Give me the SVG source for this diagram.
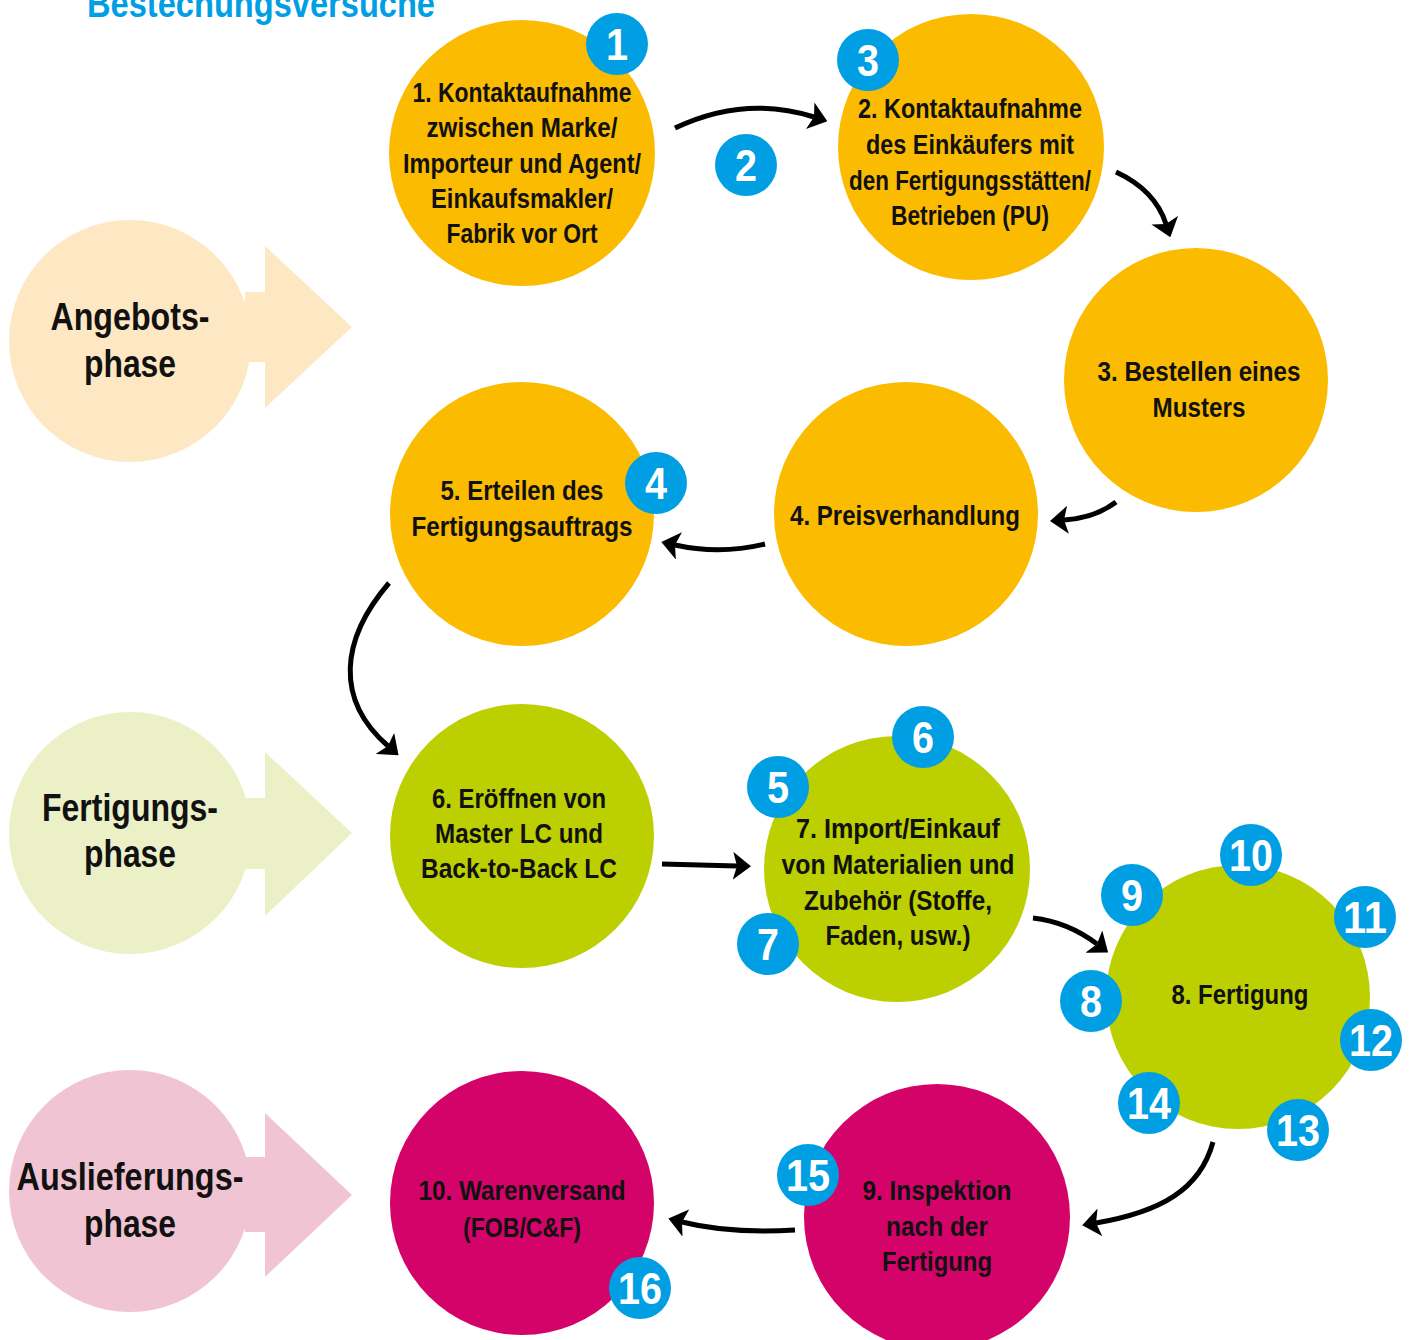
<svg xmlns="http://www.w3.org/2000/svg" width="1410" height="1340" viewBox="0 0 1410 1340">
  <defs>
    <style>
      text { font-family: "Liberation Sans", Arial, sans-serif; font-weight: bold; text-anchor: middle; }
      .lbl { font-size: 28px; fill: #111; }
      .ph { font-size: 38px; fill: #111; }
      .num { font-size: 44px; fill: #fff; }
      .title { font-size: 38px; fill: #009fe3; text-anchor: start; }
      .orange { fill: #fbbb00; }
      .green { fill: #bccf00; }
      .magenta { fill: #d4036a; }
      .badge { fill: #009fe3; }
      .conn { fill: none; stroke: #000; stroke-width: 5; marker-end: url(#arrow); }
    </style>
    <marker id="arrow" viewBox="0 0 18 28" refX="4" refY="14" markerWidth="18" markerHeight="28" markerUnits="userSpaceOnUse" orient="auto">
      <path d="M0,0 L18,14 L0,28 L4,14 Z" fill="#000"/>
    </marker>
  </defs>

  <text class="title" x="87" y="17" textLength="348" lengthAdjust="spacingAndGlyphs">Bestechungsversuche</text>

  <!-- Phase labels -->
  <g id="phase-angebot">
    <circle cx="130" cy="341" r="121" fill="#fde8c3"/>
    <polygon points="245,292 265,292 265,246 352,327 265,408 265,362 245,362" fill="#fde8c3"/>
    <text class="ph" x="130" y="330" textLength="159" lengthAdjust="spacingAndGlyphs">Angebots-</text>
    <text class="ph" x="130" y="377" textLength="92" lengthAdjust="spacingAndGlyphs">phase</text>
  </g>
  <g id="phase-fertigung">
    <circle cx="130" cy="833" r="121" fill="#ebf0c7"/>
    <polygon points="245,798 265,798 265,752 352,833 265,916 265,869 245,869" fill="#ebf0c7"/>
    <text class="ph" x="130" y="821" textLength="176" lengthAdjust="spacingAndGlyphs">Fertigungs-</text>
    <text class="ph" x="130" y="867" textLength="92" lengthAdjust="spacingAndGlyphs">phase</text>
  </g>
  <g id="phase-auslieferung">
    <circle cx="130" cy="1191" r="121" fill="#f1c4d3"/>
    <polygon points="245,1157 265,1157 265,1113 352,1195 265,1277 265,1232 245,1232" fill="#f1c4d3"/>
    <text class="ph" x="130" y="1190" textLength="227" lengthAdjust="spacingAndGlyphs">Auslieferungs-</text>
    <text class="ph" x="130" y="1237" textLength="92" lengthAdjust="spacingAndGlyphs">phase</text>
  </g>

  <!-- Process nodes -->
  <g id="node1">
    <circle class="orange" cx="522" cy="153" r="133"/>
    <text class="lbl" x="522" y="102" textLength="219" lengthAdjust="spacingAndGlyphs">1. Kontaktaufnahme</text>
    <text class="lbl" x="522" y="137" textLength="191" lengthAdjust="spacingAndGlyphs">zwischen Marke/</text>
    <text class="lbl" x="522" y="173" textLength="238" lengthAdjust="spacingAndGlyphs">Importeur und Agent/</text>
    <text class="lbl" x="522" y="208" textLength="182" lengthAdjust="spacingAndGlyphs">Einkaufsmakler/</text>
    <text class="lbl" x="522" y="243" textLength="151" lengthAdjust="spacingAndGlyphs">Fabrik vor Ort</text>
  </g>
  <g id="node2">
    <circle class="orange" cx="971" cy="147" r="133"/>
    <text class="lbl" x="970" y="118" textLength="224" lengthAdjust="spacingAndGlyphs">2. Kontaktaufnahme</text>
    <text class="lbl" x="970" y="154" textLength="208" lengthAdjust="spacingAndGlyphs">des Einkäufers mit</text>
    <text class="lbl" x="970" y="190" textLength="242" lengthAdjust="spacingAndGlyphs">den Fertigungsstätten/</text>
    <text class="lbl" x="970" y="225" textLength="158" lengthAdjust="spacingAndGlyphs">Betrieben (PU)</text>
  </g>
  <g id="node3">
    <circle class="orange" cx="1196" cy="380" r="132"/>
    <text class="lbl" x="1199" y="381" textLength="203" lengthAdjust="spacingAndGlyphs">3. Bestellen eines</text>
    <text class="lbl" x="1199" y="417" textLength="93" lengthAdjust="spacingAndGlyphs">Musters</text>
  </g>
  <g id="node4">
    <circle class="orange" cx="906" cy="514" r="132"/>
    <text class="lbl" x="905" y="525" textLength="230" lengthAdjust="spacingAndGlyphs">4. Preisverhandlung</text>
  </g>
  <g id="node5">
    <circle class="orange" cx="522" cy="514" r="132"/>
    <text class="lbl" x="522" y="500" textLength="163" lengthAdjust="spacingAndGlyphs">5. Erteilen des</text>
    <text class="lbl" x="522" y="536" textLength="221" lengthAdjust="spacingAndGlyphs">Fertigungsauftrags</text>
  </g>
  <g id="node6">
    <circle class="green" cx="522" cy="836" r="132"/>
    <text class="lbl" x="519" y="808" textLength="174" lengthAdjust="spacingAndGlyphs">6. Eröffnen von</text>
    <text class="lbl" x="519" y="843" textLength="168" lengthAdjust="spacingAndGlyphs">Master LC und</text>
    <text class="lbl" x="519" y="878" textLength="196" lengthAdjust="spacingAndGlyphs">Back-to-Back LC</text>
  </g>
  <g id="node7">
    <circle class="green" cx="897" cy="869" r="133"/>
    <text class="lbl" x="898" y="838" textLength="204" lengthAdjust="spacingAndGlyphs">7. Import/Einkauf</text>
    <text class="lbl" x="898" y="874" textLength="233" lengthAdjust="spacingAndGlyphs">von Materialien und</text>
    <text class="lbl" x="898" y="910" textLength="188" lengthAdjust="spacingAndGlyphs">Zubehör (Stoffe,</text>
    <text class="lbl" x="898" y="945" textLength="145" lengthAdjust="spacingAndGlyphs">Faden, usw.)</text>
  </g>
  <g id="node8">
    <circle class="green" cx="1238" cy="997" r="132"/>
    <text class="lbl" x="1240" y="1004" textLength="137" lengthAdjust="spacingAndGlyphs">8. Fertigung</text>
  </g>
  <g id="node9">
    <circle class="magenta" cx="937" cy="1217" r="133"/>
    <text class="lbl" x="937" y="1200" textLength="149" lengthAdjust="spacingAndGlyphs">9. Inspektion</text>
    <text class="lbl" x="937" y="1236" textLength="102" lengthAdjust="spacingAndGlyphs">nach der</text>
    <text class="lbl" x="937" y="1271" textLength="110" lengthAdjust="spacingAndGlyphs">Fertigung</text>
  </g>
  <g id="node10">
    <circle class="magenta" cx="522" cy="1203" r="132"/>
    <text class="lbl" x="522" y="1200" textLength="207" lengthAdjust="spacingAndGlyphs">10. Warenversand</text>
    <text class="lbl" x="522" y="1237" textLength="118" lengthAdjust="spacingAndGlyphs">(FOB/C&amp;F)</text>
  </g>

  <!-- Connectors -->
  <g id="connectors">
    <path class="conn" d="M675,128 Q745,95 814,117"/>
    <path class="conn" d="M1116,172 Q1155,190 1166,224"/>
    <path class="conn" d="M1116,502 Q1095,518 1064,520"/>
    <path class="conn" d="M765,544 Q720,555 675,545"/>
    <path class="conn" d="M389,583 C340,640 335,700 388,746"/>
    <path class="conn" d="M662,864 L737,866"/>
    <path class="conn" d="M1033,918 Q1068,922 1097,944"/>
    <path class="conn" d="M1213,1142 C1200,1190 1160,1212 1096,1223"/>
    <path class="conn" d="M795,1230 Q730,1234 682,1222"/>
  </g>

  <!-- Number badges -->
  <g id="badge1"><circle class="badge" cx="617" cy="44" r="31"/><text class="num" x="617" y="60" textLength="22" lengthAdjust="spacingAndGlyphs">1</text></g>
  <g id="badge2"><circle class="badge" cx="746" cy="165" r="31"/><text class="num" x="746" y="181" textLength="22" lengthAdjust="spacingAndGlyphs">2</text></g>
  <g id="badge3"><circle class="badge" cx="868" cy="60" r="31"/><text class="num" x="868" y="76" textLength="22" lengthAdjust="spacingAndGlyphs">3</text></g>
  <g id="badge4"><circle class="badge" cx="656" cy="483" r="31"/><text class="num" x="656" y="499" textLength="22" lengthAdjust="spacingAndGlyphs">4</text></g>
  <g id="badge5"><circle class="badge" cx="778" cy="787" r="31"/><text class="num" x="778" y="803" textLength="22" lengthAdjust="spacingAndGlyphs">5</text></g>
  <g id="badge6"><circle class="badge" cx="923" cy="737" r="31"/><text class="num" x="923" y="753" textLength="22" lengthAdjust="spacingAndGlyphs">6</text></g>
  <g id="badge7"><circle class="badge" cx="768" cy="944" r="31"/><text class="num" x="768" y="960" textLength="22" lengthAdjust="spacingAndGlyphs">7</text></g>
  <g id="badge8"><circle class="badge" cx="1091" cy="1001" r="31"/><text class="num" x="1091" y="1017" textLength="22" lengthAdjust="spacingAndGlyphs">8</text></g>
  <g id="badge9"><circle class="badge" cx="1132" cy="895" r="31"/><text class="num" x="1132" y="911" textLength="22" lengthAdjust="spacingAndGlyphs">9</text></g>
  <g id="badge10"><circle class="badge" cx="1251" cy="855" r="31"/><text class="num" x="1251" y="871" textLength="44" lengthAdjust="spacingAndGlyphs">10</text></g>
  <g id="badge11"><circle class="badge" cx="1365" cy="917" r="31"/><text class="num" x="1365" y="933" textLength="44" lengthAdjust="spacingAndGlyphs">11</text></g>
  <g id="badge12"><circle class="badge" cx="1371" cy="1040" r="31"/><text class="num" x="1371" y="1056" textLength="44" lengthAdjust="spacingAndGlyphs">12</text></g>
  <g id="badge13"><circle class="badge" cx="1298" cy="1130" r="31"/><text class="num" x="1298" y="1146" textLength="44" lengthAdjust="spacingAndGlyphs">13</text></g>
  <g id="badge14"><circle class="badge" cx="1149" cy="1103" r="31"/><text class="num" x="1149" y="1119" textLength="44" lengthAdjust="spacingAndGlyphs">14</text></g>
  <g id="badge15"><circle class="badge" cx="808" cy="1175" r="31"/><text class="num" x="808" y="1191" textLength="44" lengthAdjust="spacingAndGlyphs">15</text></g>
  <g id="badge16"><circle class="badge" cx="640" cy="1288" r="31"/><text class="num" x="640" y="1304" textLength="44" lengthAdjust="spacingAndGlyphs">16</text></g>
</svg>
